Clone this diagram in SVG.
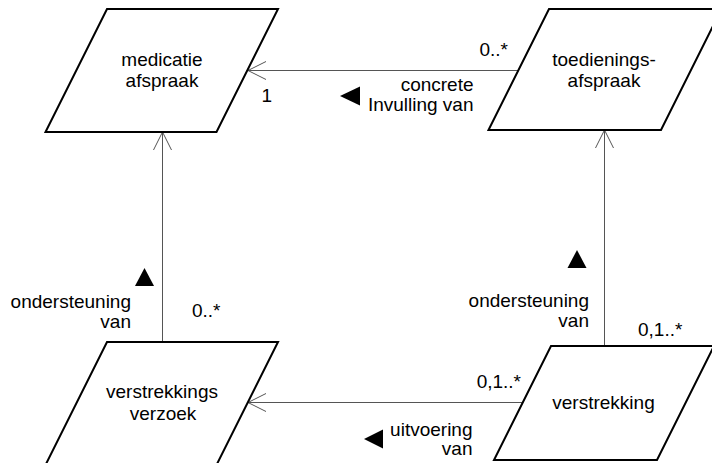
<svg xmlns="http://www.w3.org/2000/svg" width="712" height="463" viewBox="0 0 712 463">
<style>
.node{fill:#fff;stroke:#000;stroke-width:2;stroke-linejoin:miter}
text{font-family:"Liberation Sans",Arial,sans-serif;font-size:19px;fill:#000}
.c{text-anchor:middle}
.r{text-anchor:end}
.conn{stroke:#555;stroke-width:1;fill:none}
.dir{fill:#000;stroke:none}
</style>
<rect width="712" height="463" fill="#fff"/>
<g id="connectors">
  <line class="conn" x1="248" y1="70.5" x2="518" y2="70.5"/>
  <polyline class="conn" points="266,61.5 248,70.5 266,79.5"/>
  <line class="conn" x1="162.5" y1="132" x2="162.5" y2="342"/>
  <polyline class="conn" points="153.5,150 162.5,132 171.5,150"/>
  <line class="conn" x1="604.5" y1="130" x2="604.5" y2="346"/>
  <polyline class="conn" points="595.5,148 604.5,130 613.5,148"/>
  <line class="conn" x1="248" y1="402.5" x2="522" y2="402.5"/>
  <polyline class="conn" points="266,393.5 248,402.5 266,411.5"/>
  <polygon class="dir" points="340,96 360,86.5 360,105.5"/>
  <polygon class="dir" points="144.5,268 135,286 154,286"/>
  <polygon class="dir" points="577,250 567.5,268 586.5,268"/>
  <polygon class="dir" points="364,439 383,429.5 383,448.5"/>
  <text class="r" x="272" y="102">1</text>
  <text class="r" x="508" y="56">0..*</text>
  <text class="r" x="473.5" y="91">concrete</text>
  <text class="r" x="473.5" y="111">Invulling van</text>
  <text class="r" x="131" y="308">ondersteuning</text>
  <text class="r" x="131" y="328">van</text>
  <text x="192" y="317">0..*</text>
  <text class="r" x="589" y="307">ondersteuning</text>
  <text class="r" x="589" y="327">van</text>
  <text x="638" y="336">0,1..*</text>
  <text class="r" x="521" y="388">0,1..*</text>
  <text class="r" x="472.5" y="436">uitvoering</text>
  <text class="r" x="472.5" y="455">van</text>
</g>
<g id="medicatieafspraak">
  <polygon class="node" points="107,9 278,9 216.5,132 45.5,132"/>
  <text class="c" x="162" y="66">medicatie</text>
  <text class="c" x="162" y="87">afspraak</text>
</g>
<g id="toedieningsafspraak">
  <polygon class="node" points="549,9 721.5,9 661,130 488.5,130"/>
  <text class="c" x="604" y="66">toedienings-</text>
  <text class="c" x="604" y="87">afspraak</text>
</g>
<g id="verstrekkingsverzoek">
  <polygon class="node" points="107,342 278,342 216.5,465 45.5,465"/>
  <text class="c" x="162" y="398">verstrekkings</text>
  <text class="c" x="163" y="420">verzoek</text>
</g>
<g id="verstrekking">
  <polygon class="node" points="551,346 714,346 657,460 494,460"/>
  <text class="c" x="603.5" y="409">verstrekking</text>
</g>
</svg>
